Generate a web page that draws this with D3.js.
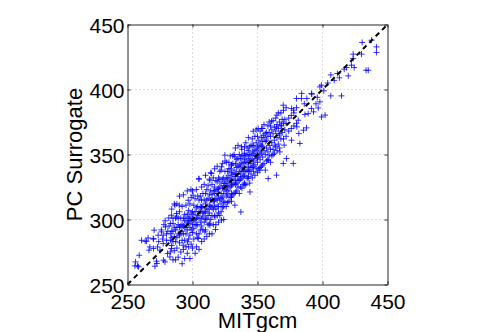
<!DOCTYPE html>
<html lang="en">
<head>
<meta charset="UTF-8">
<title>PC Surrogate vs MITgcm</title>
<script src="https://d3js.org/d3.v7.min.js"></script>
<style>
  body { margin: 0; background: #fff; }
  svg { display: block; font-family: "Liberation Sans", Arial, sans-serif; }
</style>
</head>
<body>
<div id="chart"></div>
<script>
// tick values, same on both axes
const ticks = [250, 300, 350, 400, 450];

// dense core of the cloud, read column by column (MITgcm -> surrogate values)
const coreMitgcm = [283, 284, 285, 286, 287, 288, 289, 290, 291, 292, 293, 294, 295, 296, 297, 298, 299,
  300, 301, 302, 303, 304, 305, 306, 307, 308, 309, 310, 311, 312, 313, 314, 315, 316, 317, 318, 319,
  320, 321, 322, 323, 324, 325, 326, 327, 328, 329, 330, 331, 332, 333, 334, 335, 336, 337, 338, 339,
  340, 341, 342, 343, 344, 345, 346, 347, 348, 349, 350, 351, 352, 353, 354, 355, 356, 357, 358, 359,
  360, 361, 362, 363, 364, 365, 366, 367, 368, 369, 370, 371, 372, 374, 376, 378, 380];
const coreSurrogate = [
  [297, 275, 289, 284], [308, 280, 291], [291, 269, 301, 283], [312, 276, 294, 287], [283, 301, 269, 292],
  [294, 312, 278, 286, 302], [301, 271, 289, 296], [282, 306, 294, 318, 288], [275, 289, 301, 295],
  [310, 284, 296, 266, 291], [301, 277, 289, 319, 295], [284, 304, 294, 270, 299], [311, 289, 279, 301, 294],
  [292, 322, 274, 304, 298], [285, 297, 307, 279, 301], [312, 294, 270, 302, 288, 299], [299, 281, 317, 305, 292],
  [290, 306, 278, 322, 296, 301], [299, 311, 285, 293, 304], [316, 296, 274, 306, 300],
  [301, 289, 323, 309, 279, 296], [310, 296, 286, 318, 303], [301, 315, 289, 331, 277, 306],
  [306, 292, 318, 298, 310], [315, 301, 283, 325, 309, 295], [302, 292, 320, 310, 305],
  [315, 285, 305, 327, 298], [306, 320, 292, 312, 334, 300], [315, 301, 287, 323, 308],
  [308, 326, 296, 316, 303], [319, 305, 289, 331, 311, 297], [310, 322, 300, 336, 315],
  [315, 303, 327, 289, 319, 309], [322, 308, 296, 332, 314], [311, 325, 303, 339, 315, 320],
  [322, 308, 296, 316, 330], [315, 329, 303, 323, 341, 310],
  [324, 310, 298, 332, 318, 305], [315, 331, 303, 325, 337], [328, 316, 338, 306, 320, 312],
  [317, 331, 309, 343, 324], [332, 320, 310, 326, 300, 314], [323, 337, 313, 329, 345],
  [332, 318, 344, 310, 326, 322], [325, 337, 313, 331, 319], [334, 322, 344, 314, 328, 339],
  [325, 339, 317, 349, 332], [336, 326, 314, 342, 330, 320], [327, 343, 319, 335, 349],
  [338, 328, 350, 320, 333], [331, 343, 321, 335, 355, 327], [340, 328, 346, 322, 335],
  [333, 347, 325, 341, 357, 330], [342, 330, 350, 320, 337], [335, 347, 325, 341, 331],
  [344, 332, 354, 324, 338, 349], [337, 349, 327, 343, 333],
  [346, 334, 356, 328, 340, 351], [337, 349, 327, 359, 344], [350, 338, 332, 344, 355],
  [341, 353, 333, 347, 363, 337], [350, 338, 356, 328, 345], [343, 357, 335, 349, 340],
  [352, 340, 362, 332, 346, 357], [345, 357, 337, 351, 341], [354, 342, 364, 334, 349],
  [347, 359, 339, 353, 369], [356, 344, 350, 336, 364, 348], [349, 361, 339, 355],
  [358, 346, 368, 340, 352], [351, 363, 341, 357], [360, 348, 370, 342, 356], [353, 363, 343, 373],
  [360, 350, 366, 338], [355, 367, 345, 361], [364, 352, 372, 346], [357, 367, 349, 375],
  [364, 354, 372, 344], [359, 369, 349], [366, 354, 376, 350], [361, 371, 351], [368, 356, 378],
  [363, 373, 353], [370, 358, 382], [365, 375, 355], [372, 362, 382], [367, 377], [374, 362, 384],
  [369, 377], [374, 364, 386], [378, 368], [380, 370], [382, 372], [386, 374]
];

// scattered points read one by one
const sparseMitgcm = [
  255.7, 257.7, 256.2, 259, 260.8, 264.6, 266.5, 267.2, 265.9, 269.8, 270.5, 271.1, 272.3, 273.1, 273.6,
  276.2, 275, 277.5, 278.8, 280.8, 282.6, 283.8, 281.8, 283.8, 286.5, 287.7, 279.2, 277.5, 280,
  276, 278, 280, 282, 284, 279, 281, 277, 285, 274, 258.5, 263.6, 270, 272.6, 277.7, 270,
  324.9, 322.3, 314.6, 313.4, 304.9, 298.8, 300.5, 289.8, 296.7, 307, 317.2, 322.3, 317.7, 313.4,
  309.5, 304.4, 296.2, 292.8, 324.9, 319.8,
  353.1, 350.5, 346.7, 360.8, 364.6, 354.4, 363.4, 358.2, 364.6, 358.2, 351.8, 342.8, 340.3, 344.2,
  337.2, 332.6, 330, 337.7, 332.6, 330,
  399.2, 398, 391.5, 383.8, 380, 398, 396.7, 399.2, 391.5, 389, 386.5, 369.8, 376.2, 387.7, 381.8,
  382.6, 376.2, 370.5, 372.3, 369.8, 377.5, 367.2, 368.5, 366.5, 381.3,
  437.7, 441.5, 441.5, 430.5, 435.2, 433.5, 423.6, 423.6, 430, 424.4, 422.3, 419.8, 418.5, 416.7,
  411.5, 406.4, 406.4, 414.6,
  402, 391.8, 388, 377.7, 364.9, 380.3, 385.4, 393.1, 395, 401, 404, 409, 413, 396, 386, 384
];
const sparseSurrogate = [
  264.3, 264.3, 267.4, 272.5, 284, 283.3, 276.4, 278.9, 285.8, 285.4, 291.8, 264.1, 267.9, 278.9, 287.9,
  290.5, 276.4, 281.5, 267.4, 273.8, 271.2, 277.7, 301.2, 303.3, 311, 304.6, 294.3, 287.9, 284,
  292, 296, 289, 295, 286, 299, 291, 285, 297, 283, 263.6, 283.3, 284.9, 266.2, 268.7, 277.7,
  349.5, 340.5, 335.4, 330.2, 331.5, 323, 318.7, 311, 314.8, 309.7, 302, 299.5, 292.3, 295.6,
  290.5, 285.4, 282.8, 280.2, 327.7, 320,
  370, 370, 367.9, 375.6, 371.2, 364.8, 357.2, 345.6, 334.1, 331.5, 337.9, 331.5, 326.4, 321.2,
  305.8, 311, 317.4, 355.9, 348.2, 341.8,
  403.3, 402, 396.9, 393.1, 393.1, 390.5, 385.8, 378.9, 385.4, 381.5, 380.8, 387.9, 385.4, 370.5, 366.2,
  358.5, 361, 357.2, 346.9, 343.1, 343.1, 352, 372.5, 366.2, 376.4,
  437.9, 432.8, 428.5, 436.2, 414.8, 414.8, 427.2, 423.8, 427.2, 416.9, 418.7, 410.5, 416.9, 415.6,
  412.3, 411.2, 395.1, 395.1,
  380.3, 396.4, 393.1, 384.1, 380.3, 371.3, 368.7, 382.8, 389, 399, 405, 407, 409, 394, 389, 397
];

const points = coreMitgcm.flatMap((m, i) => coreSurrogate[i].map(s => ({ m, s })))
  .concat(sparseMitgcm.map((m, i) => ({ m, s: sparseSurrogate[i] })));

const W = 498, H = 332;
const svg = d3.select("#chart").append("svg")
  .attr("width", W).attr("height", H);

const x = d3.scaleLinear().domain([250, 450]).range([127.5, 387.5]);
const y = d3.scaleLinear().domain([250, 450]).range([284.5, 24.5]);

// dotted grid
const inner = ticks.slice(1, -1);
svg.append("g").selectAll("line").data(inner).join("line")
  .attr("x1", d => x(d)).attr("x2", d => x(d))
  .attr("y1", y(450)).attr("y2", y(250))
  .attr("stroke", "#b8b8b8").attr("stroke-dasharray", "1,3");
svg.append("g").selectAll("line").data(inner).join("line")
  .attr("y1", d => y(d)).attr("y2", d => y(d))
  .attr("x1", x(250)).attr("x2", x(450))
  .attr("stroke", "#b8b8b8").attr("stroke-dasharray", "1,3");

// plus markers
svg.append("g").selectAll("path").data(points).join("path")
  .attr("transform", d => `translate(${x(d.m)},${y(d.s)})`)
  .attr("d", "M-3,0H3M0,-3V3")
  .attr("fill", "none")
  .attr("stroke", "#0000ff")
  .attr("stroke-opacity", 0.8)
  .attr("stroke-width", 1);

// 1:1 line
svg.append("line")
  .attr("x1", x(250)).attr("y1", y(250))
  .attr("x2", x(450)).attr("y2", y(450))
  .attr("stroke", "#000").attr("stroke-width", 2)
  .attr("stroke-dasharray", "5,4");

// axes, ticks pointing inward on all four sides
const fs = 21;
function styleAxis(g) {
  g.select(".domain").attr("stroke", "#262626");
  g.selectAll(".tick line").attr("stroke", "#262626");
  g.selectAll(".tick text").attr("fill", "#000").style("font-size", fs + "px")
    .style("font-family", '"Liberation Sans", Arial, sans-serif');
}
svg.append("g").attr("transform", `translate(0,${y(250)})`)
  .call(d3.axisBottom(x).tickValues(ticks).tickSizeInner(-3).tickSizeOuter(0).tickPadding(10))
  .call(styleAxis);
svg.append("g").attr("transform", `translate(0,${y(450)})`)
  .call(d3.axisTop(x).tickValues(ticks).tickSizeInner(-3).tickSizeOuter(0).tickFormat(""))
  .call(styleAxis);
svg.append("g").attr("transform", `translate(${x(250)},0)`)
  .call(d3.axisLeft(y).tickValues(ticks).tickSizeInner(-3).tickSizeOuter(0).tickPadding(3))
  .call(styleAxis)
  .selectAll(".tick text").attr("dy", "0.4em");
svg.append("g").attr("transform", `translate(${x(450)},0)`)
  .call(d3.axisRight(y).tickValues(ticks).tickSizeInner(-3).tickSizeOuter(0).tickFormat(""))
  .call(styleAxis);

// axis titles
svg.append("text")
  .attr("x", x(350)).attr("y", 328)
  .attr("text-anchor", "middle")
  .style("font-size", "22px")
  .text("MITgcm");
svg.append("text")
  .attr("transform", `translate(82,${y(350)}) rotate(-90)`)
  .attr("text-anchor", "middle")
  .style("font-size", "22px")
  .text("PC Surrogate");
</script>
</body>
</html>
